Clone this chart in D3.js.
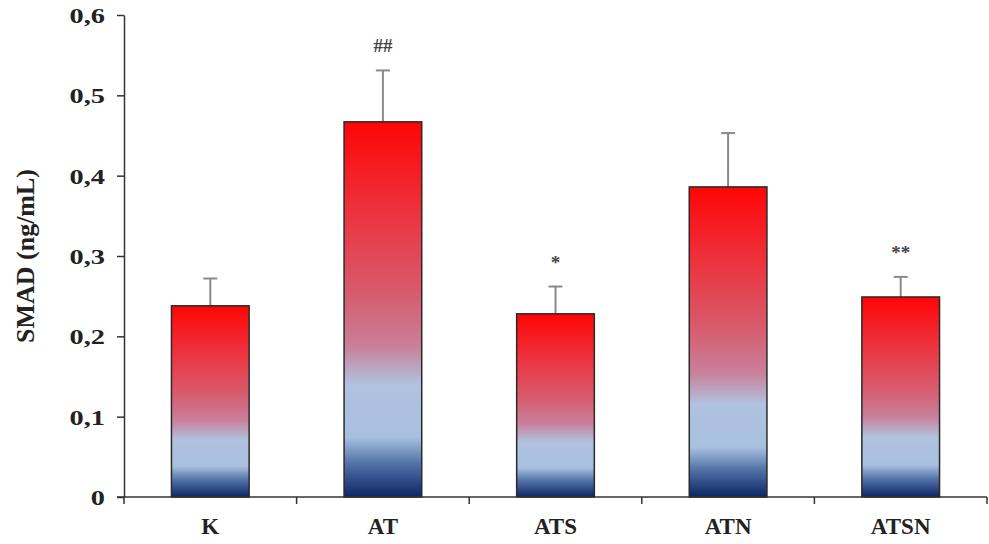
<!DOCTYPE html>
<html><head><meta charset="utf-8">
<script src="https://cdn.jsdelivr.net/npm/d3@7/dist/d3.min.js"></script>
<style>body{margin:0;background:#fff}svg{display:block}</style>
</head><body>
<svg id="c" width="989" height="544"></svg>
<script>
const categories = ["K","AT","ATS","ATN","ATSN"];
const values = [0.238, 0.467, 0.228, 0.386, 0.249];
const errors = [0.034, 0.064, 0.034, 0.067, 0.025];
const marks = ["", "##", "*", "", "**"];
const yTicks = [0, 0.1, 0.2, 0.3, 0.4, 0.5, 0.6];
const yTickLabels = ["0","0,1","0,2","0,3","0,4","0,5","0,6"];

const svg = d3.select("#c");
const m = {left:124, right:2, top:15, bottom:47};
const W = 989, H = 544;
const x = d3.scaleBand().domain(categories).range([m.left, W - m.right]).paddingInner(0.55).paddingOuter(0.275);
const y = d3.scaleLinear().domain([0, 0.6]).range([H - m.bottom, m.top]);

const defs = svg.append("defs");
const g = defs.append("linearGradient").attr("id","grad").attr("x1",0).attr("y1",0).attr("x2",0).attr("y2",1);
[[0,"#ff0505"],[0.25,"#ec3440"],[0.45,"#d85a6c"],[0.6,"#c8809a"],[0.7,"#b0c2df"],[0.84,"#a8c0e0"],[0.91,"#5373a8"],[1,"#0c2566"]]
  .forEach(([o,c]) => g.append("stop").attr("offset",o).attr("stop-color",c));

const font = "'Liberation Serif', 'Times New Roman', serif";

// error bars (upward)
const eg = svg.append("g");
categories.forEach((c,i) => {
  const cx = x(c) + x.bandwidth()/2;
  eg.append("line").attr("x1",cx).attr("x2",cx).attr("y1",y(values[i])).attr("y2",y(values[i]+errors[i]))
    .attr("stroke","#8a8a8a").attr("stroke-width",2);
  eg.append("line").attr("x1",cx-7).attr("x2",cx+7).attr("y1",y(values[i]+errors[i])).attr("y2",y(values[i]+errors[i]))
    .attr("stroke","#8a8a8a").attr("stroke-width",2);
});

// bars
svg.append("g").selectAll("rect").data(categories).join("rect")
  .attr("x", d => x(d)).attr("width", x.bandwidth())
  .attr("y", (d,i) => y(values[i])).attr("height", (d,i) => y(0) - y(values[i]))
  .attr("fill","url(#grad)").attr("stroke","#2a2a2a").attr("stroke-width",1.5);

// significance marks
svg.append("g").selectAll("text").data(categories).join("text")
  .attr("x", d => x(d) + x.bandwidth()/2)
  .attr("y", (d,i) => y(values[i]+errors[i]) - 18)
  .attr("text-anchor","middle").attr("font-family",font).attr("font-weight","bold")
  .attr("font-size",19).attr("fill","#444")
  .text((d,i) => marks[i]);

// y axis
const sx = 1.35;
const yAxis = d3.axisLeft(y).tickValues(yTicks).tickFormat((d,i) => yTickLabels[i]).tickSize(7).tickSizeOuter(0);
const ya = svg.append("g").attr("transform",`translate(${m.left},0)`).call(yAxis);
ya.select(".domain").attr("stroke","#333").attr("stroke-width",1.5);
ya.selectAll(".tick line").attr("stroke","#333").attr("stroke-width",1.5);
ya.selectAll(".tick text").attr("font-family",font).attr("font-weight","bold").attr("font-size",21)
  .attr("fill","#222").attr("x",-19/sx).attr("dy","0.35em").attr("transform",`scale(${sx},1)`);

// x axis
const xa = svg.append("g").attr("transform",`translate(0,${y(0)})`);
xa.append("line").attr("x1",m.left-7).attr("x2",W-m.right).attr("y1",0).attr("y2",0).attr("stroke","#333").attr("stroke-width",1.5);
const step = x.step();
const boundaries = d3.range(categories.length + 1).map(i => m.left + i*step);
xa.selectAll(".xt").data(boundaries).join("line").attr("class","xt")
  .attr("x1",d=>d).attr("x2",d=>d).attr("y1",0).attr("y2",7).attr("stroke","#333").attr("stroke-width",1.5);
xa.selectAll(".xl").data(categories).join("text").attr("class","xl")
  .attr("x", d => x(d) + x.bandwidth()/2).attr("y", 37)
  .attr("text-anchor","middle").attr("font-family",font).attr("font-weight","bold").attr("font-size",23).attr("fill","#222")
  .text(d => d);

// y label
svg.append("text").attr("transform",`translate(34,${(y(0)+y(0.6))/2}) rotate(-90)`)
  .attr("text-anchor","middle").attr("font-family",font).attr("font-weight","bold").attr("font-size",26).attr("fill","#222")
  .text("SMAD (ng/mL)");
</script>
</body></html>
